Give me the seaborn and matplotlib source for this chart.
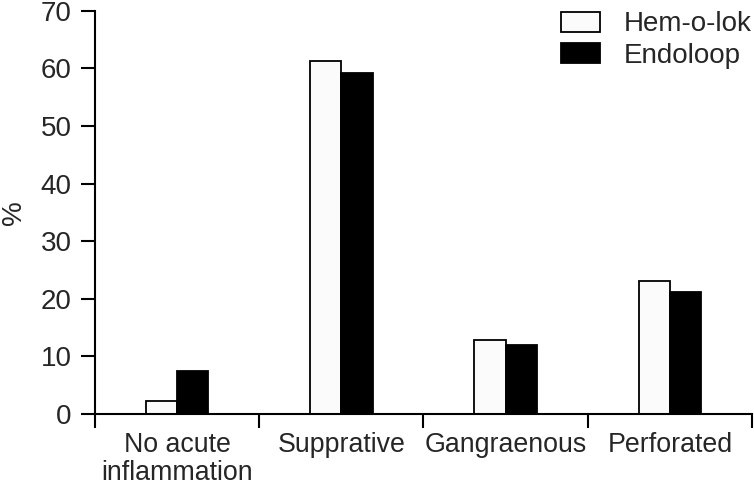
import pandas as pd
import numpy as np
import matplotlib
import seaborn as sns
import matplotlib.pyplot as plt
from matplotlib.ticker import FixedLocator

categories = ['No acute\ninflammation', 'Supprative', 'Gangraenous', 'Perforated']
hem_o_lok = [2.3, 61.3, 12.8, 23.1]
endoloop = [7.5, 59.1, 12.0, 21.1]
yticks = [0, 10, 20, 30, 40, 50, 60, 70]

sns.set_style("ticks")
plt.rcParams['font.family'] = ['Liberation Sans', 'DejaVu Sans']

df = pd.DataFrame({
    'group': categories * 2,
    'type': ['Hem-o-lok'] * 4 + ['Endoloop'] * 4,
    'value': hem_o_lok + endoloop,
})

fs = 20
fig = plt.figure(figsize=(7.54, 4.88), dpi=100)
ax = fig.add_axes([0.126, 0.1516, 0.8713, 0.8265])

sns.barplot(
    data=df, x='group', y='value', hue='type',
    order=categories, hue_order=['Hem-o-lok', 'Endoloop'],
    palette={'Hem-o-lok': '#fbfbfb', 'Endoloop': 'black'},
    width=0.38, gap=0, edgecolor='black', linewidth=1.3,
    errorbar=None, saturation=1, ax=ax,
)

ax.set_xlim(-0.5, 3.5)
ax.set_ylim(0, 70)
ax.set_yticks(yticks)
ax.set_xlabel('')
ax.set_ylabel('%', fontsize=fs, labelpad=10)
ax.tick_params(axis='y', labelsize=fs, length=10, width=1.5, pad=7, color='black')
ax.tick_params(axis='x', which='major', labelsize=19.3, length=0, pad=13)
ax.xaxis.set_minor_locator(FixedLocator([-0.5, 0.5, 1.5, 2.5, 3.5]))
ax.tick_params(axis='x', which='minor', length=10, width=1.5, color='black')
for lab in ax.get_xticklabels():
    lab.set_linespacing(1.1)

for s in ['top', 'right']:
    ax.spines[s].set_visible(False)
for s in ['left', 'bottom']:
    ax.spines[s].set_linewidth(1.5)
    ax.spines[s].set_color('black')

leg = ax.legend(
    loc='upper right', bbox_to_anchor=(1.0, 0.998), frameon=False,
    fontsize=fs, handlelength=1.4, handleheight=0.72, handletextpad=0.85,
    labelspacing=0.2, borderaxespad=0, borderpad=0,
)
leg.set_title(None)

fig.savefig('out.png', dpi=100)
